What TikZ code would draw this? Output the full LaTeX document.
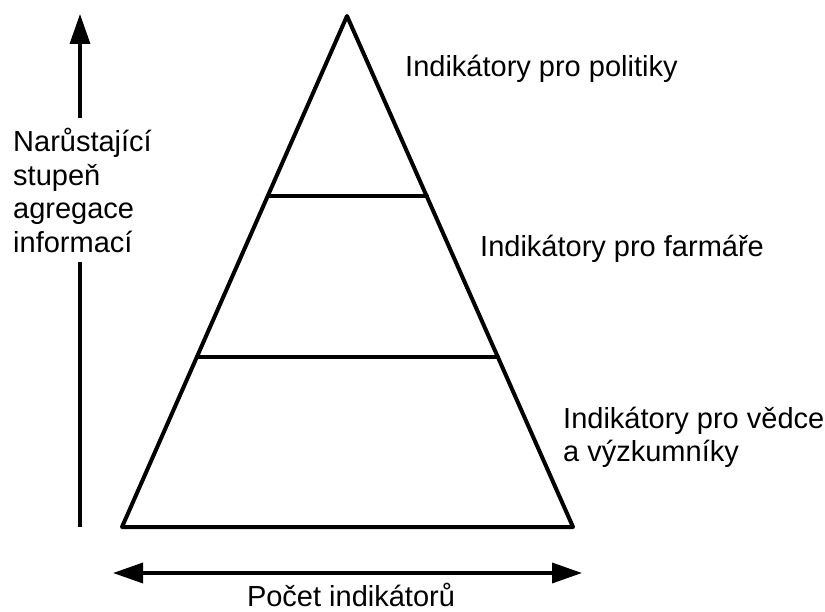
\documentclass[tikz,border=0pt]{standalone}
\usepackage{fontspec}
\setmainfont{Liberation Sans}
\usetikzlibrary{arrows.meta}
\begin{document}
\begin{tikzpicture}[x=1pt,y=-1pt,
  lbl/.style={anchor=base west,inner sep=0pt,font=\fontsize{29}{33.5}\selectfont,align=left},
  edge/.style={line width=4pt,line join=round,line cap=round},
  axis/.style={line width=3.5pt,-{Triangle[length=30pt,width=20pt]}}]
\useasboundingbox (0,0) rectangle (825,612);
% pyramid
\coordinate (apex) at (347,16);
\coordinate (bl) at (122,527);
\coordinate (br) at (573,527);
\coordinate (d1l) at (268,196);
\coordinate (d1r) at (427,196);
\coordinate (d2l) at (197,357);
\coordinate (d2r) at (498,357);
\draw[edge] (apex) -- (bl) -- (br) -- cycle;
\draw[edge] (d1l) -- (d1r);
\draw[edge] (d2l) -- (d2r);
% labels (base anchor = baseline of last line)
\node[lbl] (pol) at (405,77) {Indikátory pro politiky};
\node[lbl] (farm) at (480,257) {Indikátory pro farmáře};
\node[lbl] (ved) at (563,461.5) {Indikátory pro vědce\\a výzkumníky};
% vertical axis
\node[lbl] (agr) at (13,252.5) {Narůstající\\stupeň\\agregace\\informací};
\coordinate (ytip) at (80,14);
\coordinate (ya) at (80,118);
\coordinate (yb) at (80,262);
\coordinate (yc) at (80,527);
\draw[axis] (ya) -- (ytip);
\draw[line width=3.5pt] (yb) -- (yc);
% horizontal axis
\coordinate (xl) at (113,573);
\coordinate (xr) at (582,573);
\draw[line width=3.5pt,{Triangle[length=30pt,width=20pt]}-{Triangle[length=30pt,width=20pt]}] (xl) -- (xr);
\node[anchor=base,inner sep=0pt,text depth=0pt,font=\fontsize{29}{33.5}\selectfont] (cnt) at (351,606) {Počet indikátorů};
\end{tikzpicture}
\end{document}
